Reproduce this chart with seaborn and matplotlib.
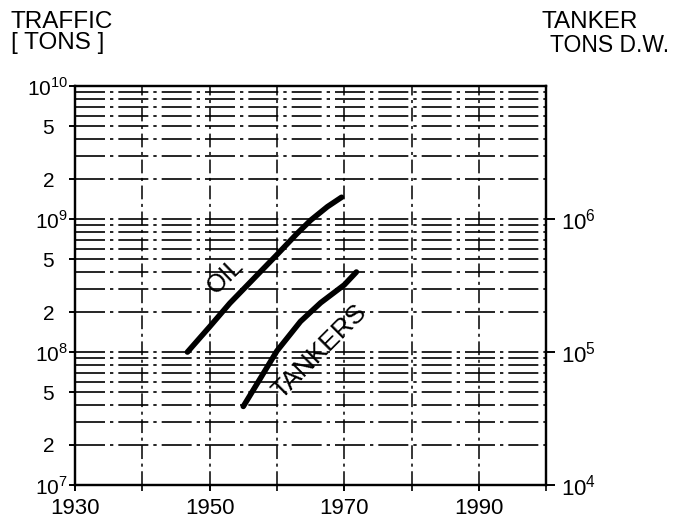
import numpy as np
import pandas as pd
import seaborn as sns
from matplotlib import pyplot as plt
from matplotlib.ticker import LogLocator, FixedLocator, FuncFormatter, NullFormatter

# values
oil_years = [1946.7, 1950, 1953, 1957.5, 1960, 1963, 1965, 1967.5, 1969.6]
oil_tons = [1.0e8, 1.55e8, 2.33e8, 4.0e8, 5.4e8, 7.8e8, 9.8e8, 1.24e9, 1.46e9]   # traffic, tons (left axis)
tanker_years = [1955, 1957.5, 1960, 1963.5, 1966.5, 1970, 1971.8]
tanker_dw = [3.9e4, 6.3e4, 1.02e5, 1.7e5, 2.35e5, 3.2e5, 4.0e5]              # tanker size, tons D.W. (right axis)

x_major = [1930, 1950, 1970, 1990]
x_minor = [1940, 1960, 1980, 2000]

sns.set_style("ticks")
plt.rcParams['font.family'] = ['Liberation Sans', 'DejaVu Sans']
plt.rcParams['mathtext.fontset'] = 'custom'
plt.rcParams['mathtext.rm'] = 'Liberation Sans'
for k in ['text.color', 'axes.labelcolor', 'xtick.color', 'ytick.color', 'axes.edgecolor']:
    plt.rcParams[k] = 'black'
plt.rcParams['axes.linewidth'] = 1.6
plt.rcParams['xtick.major.width'] = 1.4
plt.rcParams['ytick.major.width'] = 1.4

df_oil = pd.DataFrame({'year': oil_years, 'tons': oil_tons})
df_tank = pd.DataFrame({'year': tanker_years, 'dw': tanker_dw})

fig = plt.figure(figsize=(6.77, 5.2), dpi=100)
ax = fig.add_axes([0.1108, 0.0673, 0.696, 0.767])
ax2 = ax.twinx()

ax.set_yscale('log')
ax2.set_yscale('log')
ax.set_xlim(1930, 2000)
ax.set_ylim(1e7, 1e10)
ax2.set_ylim(1e4, 1e7)

sns.lineplot(data=df_oil, x='year', y='tons', ax=ax, color='black', linewidth=4.0,
             solid_capstyle='round', solid_joinstyle='round')
sns.lineplot(data=df_tank, x='year', y='dw', ax=ax2, color='black', linewidth=4.0,
             solid_capstyle='round', solid_joinstyle='round')

# left axis: 10^n, 2, 5 labelled; every 1..9 gets a grid line
ax.yaxis.set_major_locator(LogLocator(base=10, subs=(1.0, 2.0, 5.0)))
ax.yaxis.set_minor_locator(LogLocator(base=10, subs=(3.0, 4.0, 6.0, 7.0, 8.0, 9.0)))

def mant(v):
    e = int(np.floor(np.log10(v) + 1e-9))
    return int(round(v / 10 ** e)), e

def left_fmt(v, pos):
    m, e = mant(v)
    if m == 1:
        return r'$10^{%d}$' % e
    return str(m)

ax.yaxis.set_major_formatter(FuncFormatter(left_fmt))
ax.yaxis.set_minor_formatter(NullFormatter())
ax.tick_params(axis='y', which='major', length=4, labelsize=15, pad=1)
ax.tick_params(axis='y', which='minor', length=0)

ax.xaxis.set_major_locator(FixedLocator(x_major))
ax.xaxis.set_minor_locator(FixedLocator(x_minor))
ax.tick_params(axis='x', which='major', length=4, labelsize=16, pad=5)
ax.tick_params(axis='x', which='minor', length=4, width=1.2)

ax.grid(which='both', axis='y', color='black', linewidth=1.2, linestyle=(0, (18, 3, 2, 3)))
ax.grid(which='both', axis='x', color='black', linewidth=1.1, linestyle=(0, (9, 3, 2, 3)))

# right axis
ax2.yaxis.set_major_locator(FixedLocator([1e4, 1e5, 1e6]))
ax2.yaxis.set_minor_locator(FixedLocator([]))
ax2.yaxis.set_major_formatter(FuncFormatter(lambda v, p: r'$10^{%d}$' % round(np.log10(v))))
ax2.tick_params(axis='y', which='major', length=6.5, labelsize=16, pad=4)

for a in (ax, ax2):
    a.set_xlabel('')
    a.set_ylabel('')
    for s in a.spines.values():
        s.set_visible(True)
        s.set_linewidth(1.6)

# the "2" and "5" labels sit further out than the powers of ten
locs = ax.get_yticks()
for loc, t in zip(locs, ax.yaxis.get_major_ticks(len(locs))):
    if mant(loc)[0] != 1:
        t.set_pad(11)

# curve labels
ax.text(1952.4, 3.75e8, 'OIL', rotation=44, fontsize=18, ha='center', va='center',
        rotation_mode='anchor')
ax.text(1966.3, 1.0e8, 'TANKERS', rotation=45, fontsize=19, ha='center', va='center',
        rotation_mode='anchor')

# axis titles
fig.text(0.016, 0.978, 'TRAFFIC\n[ TONS ]', fontsize=17.5, ha='left', va='top', linespacing=0.9)
fig.text(0.800, 0.978, 'TANKER', fontsize=17.5, ha='left', va='top')
fig.text(0.813, 0.935, 'TONS D.W.', fontsize=16.5, ha='left', va='top')

fig.savefig('out.png', dpi=100)
